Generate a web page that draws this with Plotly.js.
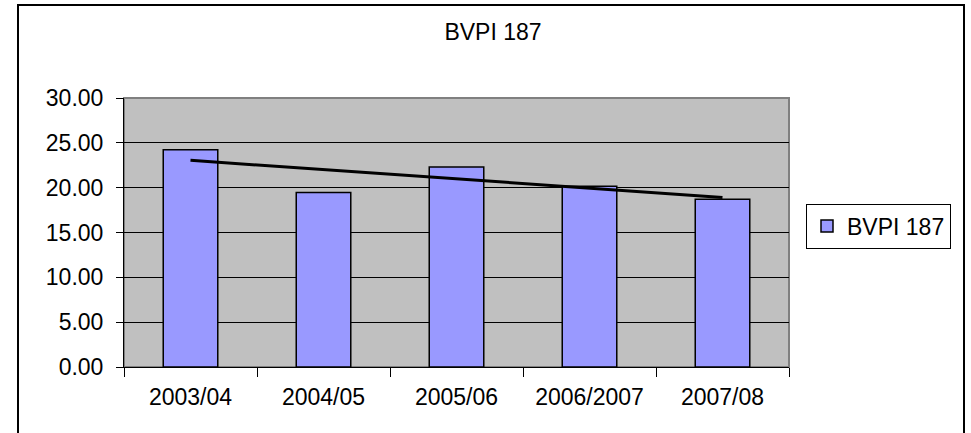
<!DOCTYPE html>
<html>
<head>
<meta charset="utf-8">
<script src="https://cdn.plot.ly/plotly-3.0.1.min.js"></script>
<style>html,body{margin:0;padding:0;background:#fff;}#chart{width:971px;height:433px;}</style>
</head>
<body>
<div id="chart"></div>
<script>
const categories = ["2003/04", "2004/05", "2005/06", "2006/2007", "2007/08"];
const bvpiValues = [24.24, 19.47, 22.31, 20.17, 18.72];
const seriesName = "BVPI 187";
const yTickVals = [0, 5, 10, 15, 20, 25, 30];
const yTickText = ["0.00", "5.00", "10.00", "15.00", "20.00", "25.00", "30.00"];

// linear trendline (least squares) like Excel's
const n = bvpiValues.length;
const xs = bvpiValues.map((_, i) => i + 1);
const mx = xs.reduce((a, b) => a + b, 0) / n;
const my = bvpiValues.reduce((a, b) => a + b, 0) / n;
let num = 0, den = 0;
xs.forEach((x, i) => { num += (x - mx) * (bvpiValues[i] - my); den += (x - mx) * (x - mx); });
const slope = num / den;
const intercept = my - slope * mx;
const trend = xs.map(x => intercept + slope * x);

const font = {family: "Liberation Sans, Arial, sans-serif", size: 23, color: "#000"};

const traces = [
  {
    type: "bar", x: categories, y: bvpiValues, name: seriesName,
    marker: {color: "#9999FF", line: {color: "#000", width: 1.5}},
    width: 0.41, hoverinfo: "x+y"
  },
  {
    type: "scatter", mode: "lines", x: categories, y: trend,
    line: {color: "#000", width: 3}, showlegend: false, hoverinfo: "skip"
  }
];

const L = 124, R = 789, T = 98, B = 367;
const pw = R - L, ph = B - T;
const px = v => (v - L) / pw;
const py = v => (B - v) / ph;

const layout = {
  width: 971, height: 433,
  margin: {l: L, r: 971 - R, t: T, b: 433 - B, pad: 0},
  paper_bgcolor: "#fff", plot_bgcolor: "#C0C0C0",
  font: font,
  title: {text: "BVPI 187", font: {family: font.family, size: 23, color: "#000"},
          xref: "paper", x: px(493), xanchor: "center", yref: "container", y: 1 - 32 / 433, yanchor: "middle"},
  xaxis: {
    type: "category", tickson: "boundaries", ticks: "outside", ticklen: 9, tickcolor: "#000",
    showgrid: false, showline: true, linecolor: "#000", linewidth: 1, zeroline: false,
    tickfont: font, ticklabelstandoff: 9, range: [-0.5, 4.5], fixedrange: true
  },
  yaxis: {
    range: [0, 30], tickvals: yTickVals, ticktext: yTickText,
    ticks: "outside", ticklen: 7, tickcolor: "#000",
    showgrid: true, gridcolor: "#000", gridwidth: 1,
    showline: true, linecolor: "#000", linewidth: 1, zeroline: false,
    tickfont: font, ticklabelstandoff: 8, fixedrange: true
  },
  showlegend: true,
  legend: {
    x: px(806), xanchor: "left", y: py(226), yanchor: "middle",
    bordercolor: "#000", borderwidth: 1, bgcolor: "#fff",
    font: font, itemwidth: 30, tracegroupgap: 0
  },
  shapes: [
    {type: "rect", xref: "paper", yref: "paper", x0: 0, x1: 1, y0: 0, y1: 1,
     line: {color: "#808080", width: 2}, layer: "below"},
    {type: "rect", xref: "paper", yref: "paper", x0: px(18), x1: px(964), y0: py(445), y1: py(5),
     line: {color: "#000", width: 2}, fillcolor: "rgba(0,0,0,0)"}
  ],
  bargap: 0.59
};

Plotly.newPlot("chart", traces, layout, {displayModeBar: false, staticPlot: true});
</script>
</body>
</html>
